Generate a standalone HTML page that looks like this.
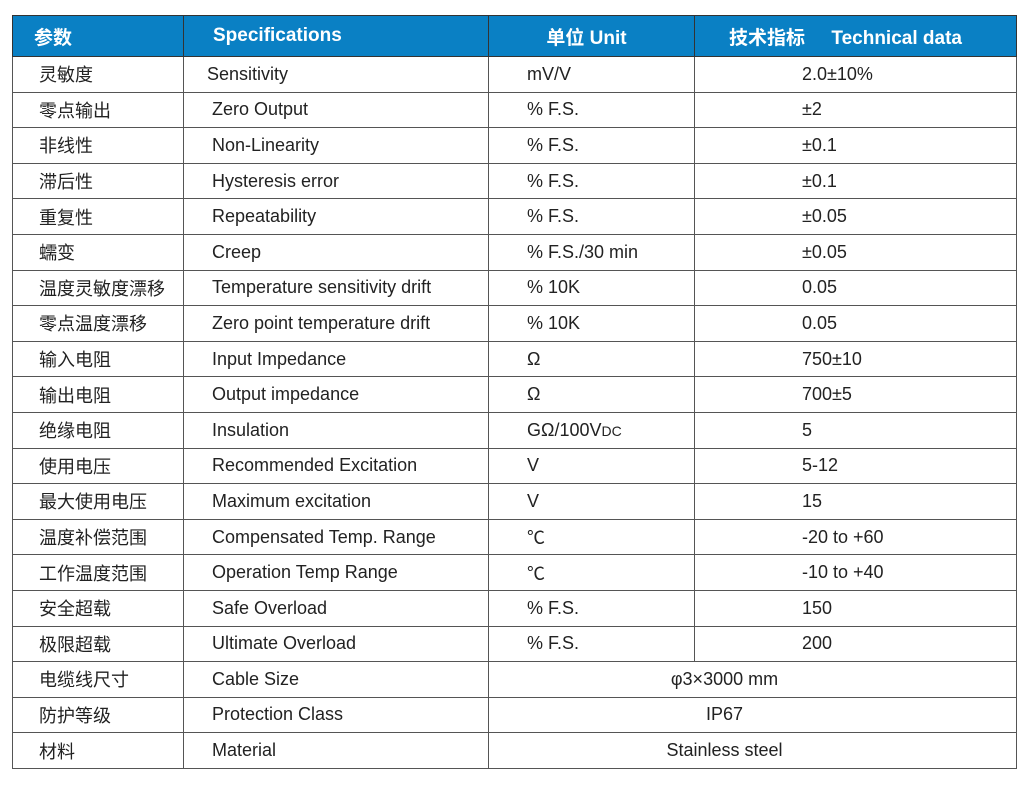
<!DOCTYPE html>
<html><head><meta charset="utf-8"><style>
body{margin:0;background:#fff;width:1031px;height:785px;overflow:hidden;}
table{position:absolute;left:12px;top:15px;border-collapse:collapse;table-layout:fixed;font-family:"Liberation Sans","Noto Sans CJK SC",sans-serif;font-size:18px;color:#222;}
td{border:1px solid #555;height:34.6px;padding:0;white-space:nowrap;vertical-align:middle;}
tr.h td{background:#0a80c4;color:#fff;font-weight:bold;height:40px;border-color:#333;font-size:19px;}
td.a{padding-left:26px}
td.b{padding-left:28px}
td.c{padding-left:38px}
td.d{padding-left:107px}
td.m{text-align:center;padding-right:56px}
</style></head><body>
<table>
<colgroup><col style="width:171px"><col style="width:305px"><col style="width:206px"><col style="width:322px"></colgroup>
<tr class="h"><td style="padding-left:21px">参数</td><td style="padding-left:29px">Specifications</td><td style="text-align:center;padding-right:10px">单位 Unit</td><td style="padding-left:34px">技术指标&nbsp;&nbsp;&nbsp;&nbsp;&nbsp;Technical data</td></tr>
<tr><td class="a">灵敏度</td><td class="b" style="padding-left:23px">Sensitivity</td><td class="c">mV/V</td><td class="d">2.0±10%</td></tr>
<tr><td class="a">零点输出</td><td class="b">Zero Output</td><td class="c">% F.S.</td><td class="d">±2</td></tr>
<tr><td class="a">非线性</td><td class="b">Non-Linearity</td><td class="c">% F.S.</td><td class="d">±0.1</td></tr>
<tr><td class="a">滞后性</td><td class="b">Hysteresis error</td><td class="c">% F.S.</td><td class="d">±0.1</td></tr>
<tr><td class="a">重复性</td><td class="b">Repeatability</td><td class="c">% F.S.</td><td class="d">±0.05</td></tr>
<tr><td class="a">蠕变</td><td class="b">Creep</td><td class="c">% F.S./30 min</td><td class="d">±0.05</td></tr>
<tr><td class="a">温度灵敏度漂移</td><td class="b">Temperature sensitivity drift</td><td class="c">% 10K</td><td class="d">0.05</td></tr>
<tr><td class="a">零点温度漂移</td><td class="b">Zero point temperature drift</td><td class="c">% 10K</td><td class="d">0.05</td></tr>
<tr><td class="a">输入电阻</td><td class="b">Input Impedance</td><td class="c">Ω</td><td class="d">750±10</td></tr>
<tr><td class="a">输出电阻</td><td class="b">Output impedance</td><td class="c">Ω</td><td class="d">700±5</td></tr>
<tr><td class="a">绝缘电阻</td><td class="b">Insulation</td><td class="c">GΩ/100V<span style="font-size:14px">DC</span></td><td class="d">5</td></tr>
<tr><td class="a">使用电压</td><td class="b">Recommended Excitation</td><td class="c">V</td><td class="d">5-12</td></tr>
<tr><td class="a">最大使用电压</td><td class="b">Maximum excitation</td><td class="c">V</td><td class="d">15</td></tr>
<tr><td class="a">温度补偿范围</td><td class="b">Compensated Temp. Range</td><td class="c">℃</td><td class="d">-20 to +60</td></tr>
<tr><td class="a">工作温度范围</td><td class="b">Operation Temp Range</td><td class="c">℃</td><td class="d">-10 to +40</td></tr>
<tr><td class="a">安全超载</td><td class="b">Safe Overload</td><td class="c">% F.S.</td><td class="d">150</td></tr>
<tr><td class="a">极限超载</td><td class="b">Ultimate Overload</td><td class="c">% F.S.</td><td class="d">200</td></tr>
<tr><td class="a">电缆线尺寸</td><td class="b">Cable Size</td><td class="m" colspan="2">φ3×3000 mm</td></tr>
<tr><td class="a">防护等级</td><td class="b">Protection Class</td><td class="m" colspan="2">IP67</td></tr>
<tr><td class="a">材料</td><td class="b">Material</td><td class="m" colspan="2">Stainless steel</td></tr>
</table>
</body></html>
